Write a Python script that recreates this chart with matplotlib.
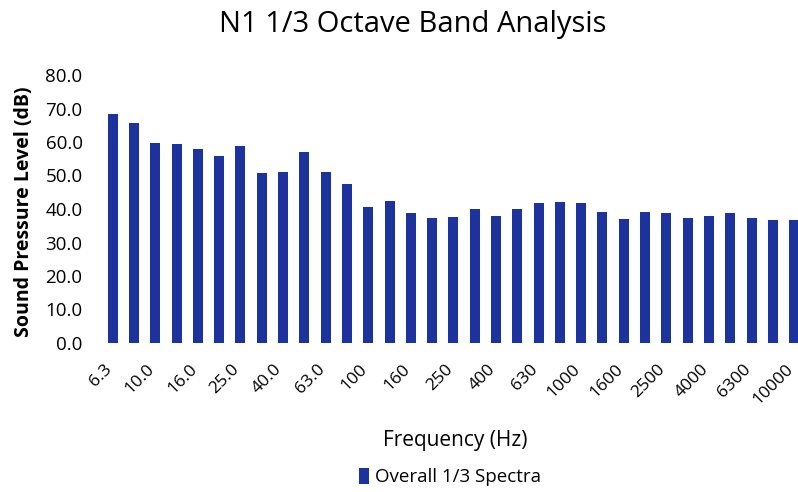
import matplotlib
matplotlib.use("Agg")
import matplotlib.pyplot as plt
import matplotlib.transforms as mtransforms
import numpy as np

bands = ["6.3", "8.0", "10.0", "12.5", "16.0", "20.0", "25.0", "31.5", "40.0", "50.0",
         "63.0", "80.0", "100", "125", "160", "200", "250", "315", "400", "500",
         "630", "800", "1000", "1250", "1600", "2000", "2500", "3150", "4000", "5000",
         "6300", "8000", "10000"]
spl = [68.4, 65.6, 59.8, 59.3, 57.8, 55.8, 58.9, 50.8, 51.1, 57.1,
       51.1, 47.4, 40.7, 42.4, 38.9, 37.2, 37.5, 40.0, 38.0, 40.0,
       41.7, 42.2, 41.9, 39.2, 36.9, 39.2, 38.9, 37.2, 38.0, 38.9,
       37.2, 36.7, 36.7]

plt.rcParams['font.family'] = ['Open Sans', 'DejaVu Sans']

fig = plt.figure(figsize=(7.98, 4.92), dpi=100)
ax = fig.add_axes([102 / 798, 149 / 492, (798 - 102) / 798, 268 / 492])

x = np.arange(len(bands))
ax.bar(x, spl, width=0.47, color='#1c339e', label='Overall 1/3 Spectra')

ax.set_xlim(-0.5, 32.18)
ax.set_ylim(0, 80)
ax.set_yticks(np.arange(0, 81, 10))
ax.set_yticklabels(["%.1f" % v for v in np.arange(0, 81, 10)], fontsize=13.5)
ax.set_xticks(x[::2])
ax.set_xticklabels(bands[::2], rotation=45, ha='right', rotation_mode='anchor', fontsize=12.5)
ax.tick_params(axis='y', length=0, pad=14)
ax.tick_params(axis='x', length=0, pad=13)
# nudge the rotated labels left so 10000 fits
shift = mtransforms.ScaledTranslation(-0.09, 0, fig.dpi_scale_trans)
for lab in ax.get_xticklabels():
    lab.set_transform(lab.get_transform() + shift)
for s in ax.spines.values():
    s.set_visible(False)

ax.set_ylabel('Sound Pressure Level (dB)', fontsize=14, fontweight='bold')
ax.yaxis.set_label_coords(-0.098, 0.49)
fig.text(0.570, 0.104, 'Frequency (Hz)', fontsize=15, ha='center', va='center')
fig.text(0.517, 0.98, 'N1 1/3 Octave Band Analysis', fontsize=21, ha='center', va='top')
fig.legend(loc='center', bbox_to_anchor=(0.564, 0.030), frameon=False, fontsize=13.5,
           handlelength=0.55, handleheight=0.9, handletextpad=0.3)

fig.savefig('out.png', dpi=100)
